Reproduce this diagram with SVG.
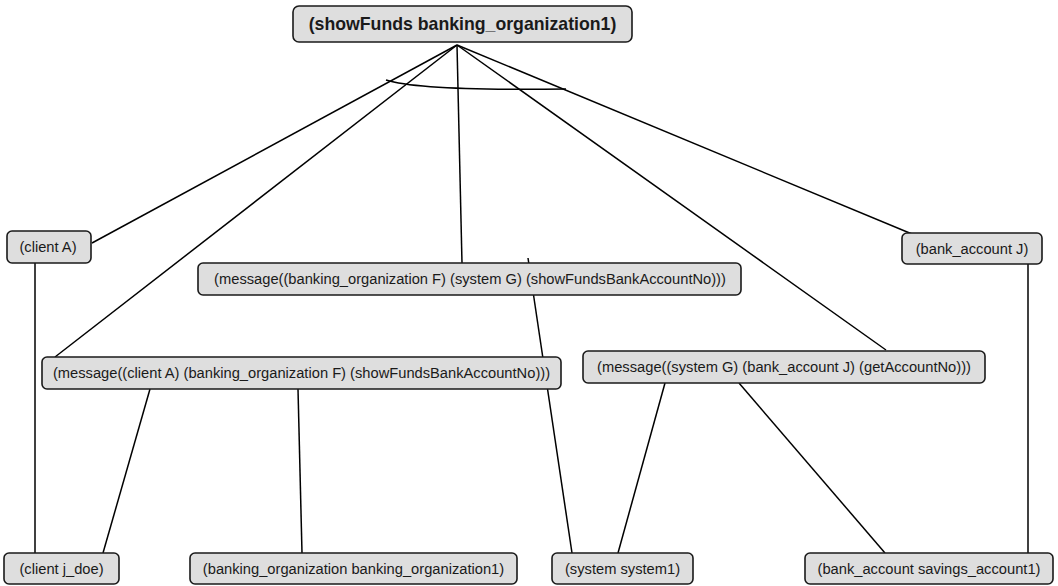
<svg xmlns="http://www.w3.org/2000/svg" width="1058" height="586" viewBox="0 0 1058 586">
  <style>
    .node rect { fill: #dedede; stroke: #1a1a1a; stroke-width: 1.6; }
    .node text { font-family: "Liberation Sans", Arial, sans-serif; font-size: 14.7px; fill: #1a1a1a; text-anchor: middle; dominant-baseline: central; }
    .node.root text { font-size: 17.7px; font-weight: bold; }
    .edges line, .edges path { stroke: #000; stroke-width: 1.5; fill: none; }
  </style>
  <rect width="1058" height="586" fill="#fff"/>
  <g class="edges">
    <line x1="457" y1="45" x2="92" y2="243"/>
    <line x1="457" y1="45" x2="55" y2="357"/>
    <line x1="457" y1="45" x2="462" y2="263"/>
    <line x1="457" y1="45" x2="886" y2="350"/>
    <line x1="457" y1="45" x2="912" y2="234"/>
    <path d="M386,80 Q420,91 566,89"/>
    <line x1="35" y1="263" x2="35" y2="553"/>
    <line x1="150" y1="389" x2="103" y2="553"/>
    <line x1="298" y1="389" x2="302" y2="553"/>
    <line x1="528" y1="258" x2="572" y2="553"/>
    <line x1="665" y1="383" x2="618" y2="553"/>
    <line x1="739" y1="383" x2="885" y2="553"/>
    <line x1="1028" y1="264" x2="1028" y2="553"/>
  </g>
  <g id="root" class="node root">
    <rect x="293" y="6" width="339" height="36" rx="6"/>
    <text x="462.5" y="24">(showFunds banking_organization1)</text>
  </g>
  <g id="clientA" class="node">
    <rect x="7" y="231" width="84" height="32" rx="5"/>
    <text x="48" y="247">(client A)</text>
  </g>
  <g id="bankAccountJ" class="node">
    <rect x="902" y="233" width="140" height="31" rx="5"/>
    <text x="972" y="248.5">(bank_account J)</text>
  </g>
  <g id="msgOrgSystem" class="node">
    <rect x="198" y="263" width="543" height="32" rx="5"/>
    <text x="470" y="279">(message((banking_organization F) (system G) (showFundsBankAccountNo)))</text>
  </g>
  <g id="msgClientOrg" class="node">
    <rect x="42" y="357" width="519" height="32" rx="5"/>
    <text x="301.5" y="373">(message((client A) (banking_organization F) (showFundsBankAccountNo)))</text>
  </g>
  <g id="msgSystemAccount" class="node">
    <rect x="583" y="351" width="402" height="32" rx="5"/>
    <text x="784" y="367">(message((system G) (bank_account J) (getAccountNo)))</text>
  </g>
  <g id="clientJdoe" class="node">
    <rect x="4" y="553" width="115" height="31" rx="5"/>
    <text x="61.5" y="568.5">(client j_doe)</text>
  </g>
  <g id="bankingOrg1" class="node">
    <rect x="190" y="553" width="327" height="31" rx="5"/>
    <text x="353.5" y="568.5">(banking_organization banking_organization1)</text>
  </g>
  <g id="system1" class="node">
    <rect x="552" y="553" width="141" height="31" rx="5"/>
    <text x="622.5" y="568.5">(system system1)</text>
  </g>
  <g id="savingsAccount1" class="node">
    <rect x="805" y="553" width="248" height="31" rx="5"/>
    <text x="929" y="568.5">(bank_account savings_account1)</text>
  </g>
</svg>
